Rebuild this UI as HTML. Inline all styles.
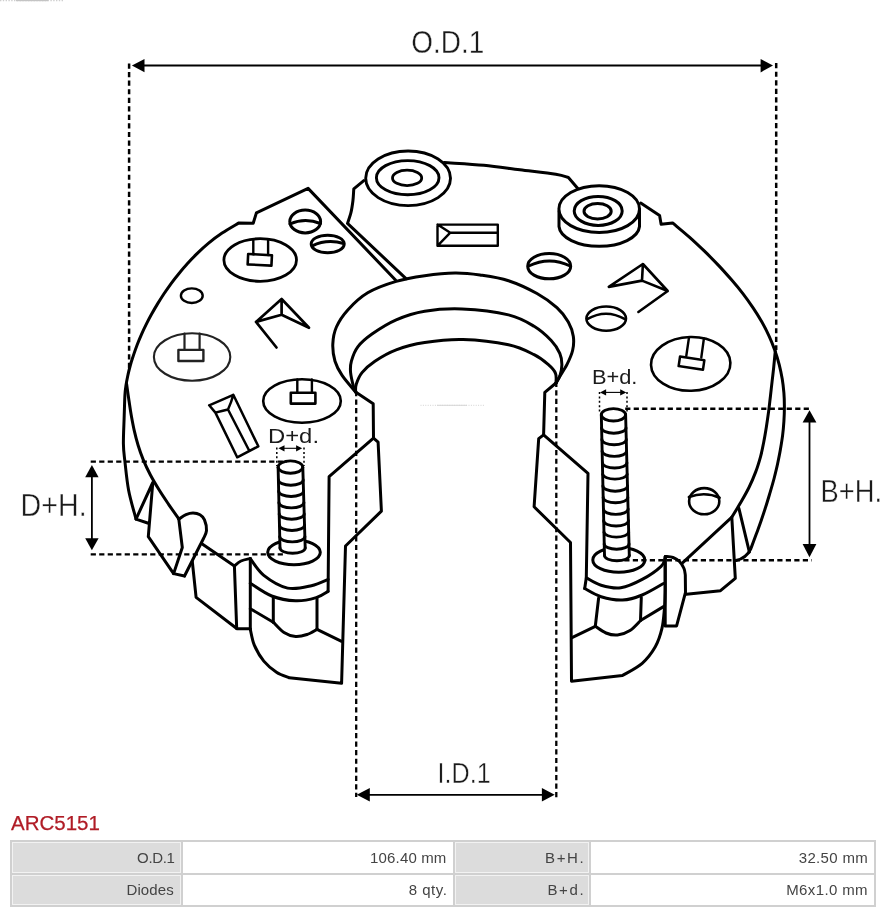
<!DOCTYPE html>
<html><head><meta charset="utf-8"><style>
html,body{margin:0;padding:0;background:#fff;width:890px;height:913px;overflow:hidden}
body{position:relative;font-family:"Liberation Sans",sans-serif}
svg{position:absolute;left:0;top:0;will-change:transform}
.title,table{will-change:transform}
.title{position:absolute;left:11px;top:811px;font-size:20.5px;color:#b01c26;-webkit-text-stroke:0.25px #b01c26;line-height:24px;white-space:nowrap}
table{position:absolute;left:10px;top:840px;border-collapse:separate;border-spacing:2px;background:#d0d0d0;width:866px;height:67px;padding:0}
td{box-sizing:border-box;font-size:15px;letter-spacing:0.15px;color:#444;text-align:right;padding:0 5px 0 0;border:1px solid #f2f2f2;line-height:16px;white-space:nowrap}
td.l{background:#dcdcdc}
td.v{background:#fff;border-color:#fff}
</style></head><body>
<svg width="890" height="913" viewBox="0 0 890 913">
<g fill="none" stroke="#000" stroke-linejoin="round" stroke-linecap="round">
<path d="M136,519.1 C134.8,514.3 130.4,499.8 128.6,490.2 C126.8,480.6 125.8,469.1 124.9,461.4 C124,453.6 123.5,451.3 123.4,443.7 C123.3,436.1 124,423.8 124.2,415.8 C124.5,407.8 124.6,400.6 124.9,395.5 C125.2,390.4 125.5,388.7 126,385.3 C126.5,381.9 127.2,378.6 127.9,375.2 C128.6,371.8 129.5,368.4 130.4,365 C131.3,361.6 132.5,358.3 133.6,354.9 C134.7,351.5 135.9,348.1 137.2,344.7 C138.5,341.3 139.9,338 141.4,334.6 C142.9,331.2 144.5,327.8 146.2,324.4 C147.9,321 149.6,317.7 151.5,314.3 C153.4,310.9 155.3,307.5 157.4,304.1 C159.5,300.7 161.6,297.4 163.8,294 C166.1,290.6 168.4,287.2 170.9,283.8 C173.4,280.4 176,277.1 178.8,273.7 C181.6,270.3 184.4,266.9 187.5,263.5 C190.6,260.1 193.8,256.8 197.3,253.4 C200.8,250 204.5,246.6 208.6,243.2 C212.7,239.8 217,236.5 222.1,233.1 C227.2,229.7 236.2,224.6 239,222.9 L253.2,223.3 L256.4,212.9 L308.1,188.4 L395.5,280" stroke-width="3"/>
<path d="M126.6,384 C127,386.8 128.2,395.5 129,400.8 C129.8,406.1 130.4,410.7 131.3,415.6 C132.2,420.5 133.1,425.5 134.2,430.4 C135.3,435.3 136.6,440.3 138.1,445.2 C139.6,450.1 141.3,455 143.3,459.9 C145.3,464.8 147.7,469.8 150.3,474.7 C152.9,479.6 155.9,484.6 158.9,489.5 C161.9,494.4 165.3,499.4 168.6,504.3 C171.9,509.2 177.2,516.6 178.9,519.1" stroke-width="3"/>
<path d="M149.1,523.5 L136,519.1 L152.8,482.5 L148.3,536.7 L173.6,573.6 L184.5,576" stroke-width="3"/>
<path d="M178.8,519.1 C180,518.4 183.6,515.6 186,514.6 C188.4,513.6 190.7,513 193,513 C195.3,513 198.1,513.6 200,514.8 C201.9,515.9 203.4,517.2 204.5,519.9 C205.6,522.5 206.7,527.6 206.5,530.7 C206.3,533.8 204,537.2 203.5,538.5 L184.5,576" stroke-width="3"/>
<path d="M178.8,519.1 L182.3,547.5 L173.6,573.6" stroke-width="3"/>
<path d="M201.5,543.5 L234.4,566" stroke-width="3"/>
<path d="M192.3,561.5 L196.1,597.4 L236.7,628.5" stroke-width="3"/>
<path d="M234.4,566 C235.5,565.2 238.3,562.2 241,561 C243.7,559.8 248.8,558.9 250.3,558.5" stroke-width="3"/>
<path d="M234.4,566 L236.7,628.8 L250.3,628.8" stroke-width="3"/>
<path d="M250.3,558.5 L250.3,629.4" stroke-width="3"/>
<path d="M250.3,558.7 C252.6,561.5 257.6,570.5 263.8,575.4 C270,580.3 279.7,586.4 287.6,588.1 C295.5,589.8 304.6,587.2 311.4,585.7 C318.1,584.2 325.3,580.5 328.1,579.4" stroke-width="3"/>
<path d="M250.3,583.3 C253.9,585.4 264.1,593.1 271.7,596 C279.2,598.9 288.2,600.5 295.6,600.8 C303,601.1 310.8,599.2 316.2,597.6 C321.6,596 326.1,592.3 328.1,591.3" stroke-width="3"/>
<path d="M373.5,438.2 L329.1,476.7 L328.1,591.3" stroke-width="3"/>
<path d="M250.3,608.7 L273.3,622.2" stroke-width="3"/>
<path d="M273.3,597.6 L273.3,622.2" stroke-width="3"/>
<path d="M317,598.4 L317,629.4" stroke-width="3"/>
<path d="M273.3,622.2 C275.1,623.9 280.3,630.1 284,632.5 C287.7,634.9 291.8,636.2 295.6,636.5 C299.4,636.8 303.4,635.7 307,634.5 C310.6,633.3 315.3,630.2 317,629.4" stroke-width="3"/>
<path d="M317,629.4 L341.6,641.3" stroke-width="3"/>
<path d="M250.3,629.4 C251,632 252.1,639.9 254.3,645.2 C256.6,650.5 260.1,656.6 263.8,661.1 C267.5,665.6 272.3,669.4 276.5,672.2 C280.7,675 287.1,676.9 289.2,677.8 L341.6,683.3 L345.5,546 L381.4,511.2 L378.1,442.2 L373.5,438.2 L373.2,403.7 L355.6,392" stroke-width="3"/>
<path d="M355.6,392 C353.4,389.2 345.5,380.5 342.1,375.4 C338.7,370.3 336.6,366.4 335,361.2 C333.4,356 332.6,349.8 332.8,344.1 C333,338.4 333.9,332.7 336.4,327 C338.9,321.3 342.6,315.6 347.8,309.9 C353,304.2 359.6,297.6 367.7,292.8 C375.8,288.1 386.7,284.2 396.2,281.4 C405.7,278.5 414.9,277.1 424.7,275.7 C434.5,274.3 445.8,273.1 455,273 C464.2,272.9 471.1,273.7 480,275 C488.9,276.3 499,277.6 508.5,280.7 C518,283.8 528.9,289 537,293.5 C545.1,298 551.7,302.9 556.9,307.7 C562.1,312.4 565.6,317.2 568.3,322 C571,326.8 572.6,331.4 573.3,336.2 C574,340.9 573.7,345.8 572.6,350.5 C571.5,355.2 569.1,360.2 566.9,364.7 C564.6,369.2 560.9,374.4 559.1,377.5 C557.3,380.6 556.5,382.1 556,383" stroke-width="3"/>
<path d="M355.6,392 C355.2,391.1 354.3,390 353.5,386.8 C352.7,383.6 351,376.9 350.6,372.6 C350.2,368.3 350.2,365.5 351.4,361.2 C352.6,356.9 354.4,351.4 357.8,346.9 C361.2,342.4 365.6,338.6 372,334.1 C378.4,329.6 387.4,323.7 396.2,319.9 C405,316.1 413.7,313.1 424.7,311.3 C435.7,309.5 448,308.4 462,309 C476,309.6 496.5,312 508.5,314.9 C520.5,317.8 527,322 534.1,326.3 C541.2,330.6 546.9,336 551.2,340.5 C555.5,345 558,349.3 559.8,353.3 C561.6,357.3 561.9,360.9 561.9,364.7 C561.9,368.5 560.8,373.1 559.8,376.1 C558.8,379.2 556.6,381.9 556,383" stroke-width="3"/>
<path d="M355.6,392 C355.7,390.7 355.2,387.2 356.3,384 C357.4,380.8 358.9,376.4 362,372.6 C365.1,368.8 369.2,365 374.9,361.2 C380.6,357.4 387.9,352.9 396.2,349.8 C404.5,346.7 413.6,344.3 424.7,342.6 C435.8,340.9 449,339.2 463,339.6 C477,340 496.6,342.3 508.5,344.8 C520.4,347.3 527.5,351.4 534.1,354.7 C540.8,358 544.8,361.6 548.4,364.7 C552,367.8 554.2,370.2 555.5,373.3 C556.8,376.4 555.9,381.4 556,383" stroke-width="3"/>
<path d="M556,383 L544.8,392.4 L543.6,434.8 L538.7,438.7 L534.1,506.8 L570.5,542.5 L571.5,681.3 L622.4,675.6 C625.7,673.5 636.7,668.1 642.2,663.3 C647.7,658.5 652,652.6 655.3,646.8 C658.6,641 660.4,635 661.9,628.7 C663.4,622.4 663.8,615.5 664.4,609 C665,602.5 665.1,593.2 665.2,590 L665.2,556.4" stroke-width="3"/>
<path d="M543.6,434.8 L588,473.3 L586.3,577.8 L584.7,588.5" stroke-width="3"/>
<path d="M586.3,577.8 C588.8,579 595.4,583.6 601.1,585.2 C606.9,586.9 613.9,588.7 620.8,587.7 C627.6,586.7 635.5,583 642.2,579.4 C648.9,575.8 657.3,569.9 661.1,566.3 C664.9,562.7 664.5,559.4 665.2,558" stroke-width="3"/>
<path d="M584.7,588.5 C587.4,589.9 594.8,594.8 601.1,596.7 C607.4,598.6 615.5,600.3 622.4,600 C629.2,599.7 635.4,597.8 642.2,595 C649.1,592.2 660,585.4 663.5,583.5" stroke-width="3"/>
<path d="M571.5,637.8 L595.3,626.3" stroke-width="3"/>
<path d="M598.6,598.3 L595.3,626.3" stroke-width="3"/>
<path d="M641.3,597.5 L640.5,620.5" stroke-width="3"/>
<path d="M595.3,626.3 C597.1,627.4 602.3,631.5 606,633 C609.7,634.5 613.5,635.4 617.5,635 C621.5,634.6 626.2,632.9 630,630.5 C633.8,628.1 638.8,622.2 640.5,620.5" stroke-width="3"/>
<path d="M640.5,620.5 L663.5,606.6" stroke-width="3"/>
<path d="M665.2,556.4 C666.5,556.6 670.6,556.6 673,557.5 C675.4,558.4 677.7,559.7 679.5,561.5 C681.3,563.3 683,566.2 684,568.5 C685,570.8 685.1,573.9 685.3,575 L685.5,592.3 L676.6,625.9 L665.2,625.9 L665.2,556.4" stroke-width="3"/>
<path d="M686.3,594.2 L720.5,590.7 L735.3,578.4 L731.8,517.1" stroke-width="3"/>
<path d="M738.9,508.3 L749.4,552.1" stroke-width="3"/>
<path d="M640.7,203 L659.6,215.6 L661.1,224.3 L672.6,222.9 C675.4,225.3 684.1,232.4 689.4,237.1 C694.7,241.8 699.6,246.5 704.5,251.2 C709.4,255.9 714,260.7 718.5,265.4 C723,270.1 727.2,274.9 731.3,279.6 C735.4,284.3 739.3,289 742.9,293.7 C746.5,298.4 749.9,303.2 753.1,307.9 C756.3,312.6 759.2,317.4 761.9,322.1 C764.6,326.8 767,331.6 769.2,336.3 C771.4,341 773.2,345.7 774.9,350.4 C776.6,355.1 778,359.9 779.2,364.6 C780.4,369.3 781.4,374.1 782.2,378.8 C783,383.5 783.5,388.2 783.9,392.9 C784.3,397.6 784.4,402.4 784.4,407.1 C784.4,411.8 784.2,416.6 783.9,421.3 C783.6,426 783.2,430.7 782.6,435.4 C782,440.1 781.2,444.9 780.4,449.6 C779.6,454.3 778.6,459.1 777.6,463.8 C776.6,468.5 775.4,473.3 774.2,478 C773,482.7 771.6,487.4 770.2,492.1 C768.8,496.8 767.4,501.6 765.9,506.3 C764.4,511 762.8,515.8 761.2,520.5 C759.6,525.2 757.8,529.9 756.1,534.6 C754.4,539.3 751.7,546.4 750.8,548.8 Q746.5,558 736,560.5" stroke-width="3"/>
<path d="M775.3,351.3 C775,353.8 774.3,361.4 773.8,366.4 C773.3,371.4 772.7,376.4 772.1,381.4 C771.5,386.4 771,391.5 770.4,396.5 C769.8,401.5 769.3,406.6 768.6,411.6 C767.9,416.6 767.2,421.7 766.4,426.7 C765.6,431.7 764.8,436.7 763.8,441.7 C762.8,446.7 761.9,451.8 760.5,456.8 C759.1,461.8 757.6,466.9 755.7,471.9 C753.8,476.9 751.7,482 749.2,487 C746.8,492 743.9,497 741,502 C738.1,507 733.4,514.6 731.9,517.1 L682.8,562.7" stroke-width="3"/>
<path d="M444.4,162.6 C451,163.1 471.3,164.1 483.9,165.3 C496.5,166.5 507.9,168.3 519.9,169.8 C531.9,171.3 547.7,173 555.8,174.3 C563.9,175.6 566.3,177 568.4,177.5 L577.6,188.2" stroke-width="3"/>
<path d="M363.8,180.7 L353.8,188.8 C353.6,190.8 353.4,197.1 352.9,201 C352.4,204.9 351.9,208.7 351,212.4 C350.1,216.1 348.1,221.6 347.5,223.4 L406,278.6" stroke-width="3"/>
<ellipse cx="408.1" cy="178.3" rx="42.4" ry="27.3" stroke-width="2.9" fill="#fff"/>
<ellipse cx="407.7" cy="177.7" rx="31.3" ry="17.1" stroke-width="2.9"/>
<ellipse cx="407.1" cy="177.9" rx="14.6" ry="7.7" stroke-width="2.8"/>
<path d="M559,211 L559,226.5 A40.3 20.8 0 0 0 639.5,226.5 L639.5,209" stroke-width="3" fill="#fff"/>
<ellipse cx="599.2" cy="209.1" rx="40.3" ry="23.4" stroke-width="3" fill="#fff"/>
<ellipse cx="598.2" cy="210.9" rx="24" ry="14.5" stroke-width="3"/>
<ellipse cx="597.6" cy="211.3" rx="13.6" ry="7.8" stroke-width="3"/>
<ellipse cx="305.2" cy="221.5" rx="15.4" ry="11.4" stroke-width="3"/>
<path d="M290,224 Q304.8,217.2 320.5,223.5" stroke-width="3"/>
<ellipse cx="327.7" cy="244" rx="16.5" ry="8.8" stroke-width="3"/>
<path d="M312.3,245.8 Q327.2,238.5 343.7,243.5" stroke-width="3"/>
<ellipse cx="549.2" cy="266.2" rx="21.5" ry="12.6" stroke-width="3"/>
<path d="M528.7,266 Q549.3,255.8 570.2,266" stroke-width="3"/>
<ellipse cx="606.2" cy="318.6" rx="19.8" ry="12.1" stroke-width="2.6"/>
<path d="M587.2,319.2 Q605.9,308.4 625,319.2" stroke-width="2.6"/>
<ellipse cx="704.2" cy="501.2" rx="15.1" ry="13.1" stroke-width="2.6"/>
<path d="M688.9,497 Q705.2,491.2 719.6,497.8" stroke-width="2.6"/>
<ellipse cx="191.8" cy="295.7" rx="10.9" ry="7.3" stroke-width="2.4"/>
<path d="M276.5,347.5 L256,321.9 L281.6,299 L309,327.8 L281.6,314.7 L256,321.9 M281.6,299 L281.6,314.7" stroke-width="2.7"/>
<path d="M638.4,312 L667.7,291 L642.9,264 L608.8,286.9 L642,280.6 L667.7,291 M642.9,264 L642,280.6" stroke-width="2.6"/>
<path d="M437.5,224.6 H497.8 V245.8 H437.5 Z M437.5,224.6 L450.3,232.7 L437.5,245.8 M450.3,232.7 H497.8" stroke-width="2.4"/>
<ellipse cx="260.2" cy="260" rx="36.3" ry="21.3" stroke-width="2.8"/>
<path d="M253.3,239.2 V254.3 M268.1,239.4 V255" stroke-width="2.4"/>
<rect x="-11.9" y="-5.2" width="23.8" height="10.4" stroke-width="2.6" transform="translate(259.8 259.8) rotate(2.9)"/>
<ellipse cx="192.1" cy="357" rx="38.2" ry="23.7" stroke-width="2.1" stroke="#222"/>
<path d="M184.5,333.5 V349.9 M199.6,333.5 V349.9" stroke-width="2.2" stroke="#222"/>
<rect x="178.4" y="349.9" width="25" height="11.1" stroke-width="2.4" stroke="#222"/>
<ellipse cx="302" cy="401" rx="38.8" ry="21.7" stroke-width="2.6"/>
<path d="M297.3,379.5 V392.8 M311.9,379.5 V392.8" stroke-width="2.4"/>
<rect x="290.8" y="392.8" width="24.6" height="10.8" stroke-width="2.6"/>
<ellipse cx="690.7" cy="363.9" rx="39.7" ry="26.9" stroke-width="2.6" transform="rotate(-1.5 690.7 363.9)"/>
<path d="M689,337.5 L686.3,355.8 M703.9,338.5 L701.3,357.5" stroke-width="2.4"/>
<rect x="-12.3" y="-4.85" width="24.6" height="9.7" stroke-width="2.5" transform="translate(691.5 363.1) rotate(8.5)"/>
<path d="M209.2,405.3 L233.3,394.8 L258.3,446.3 L237.2,457.3 L215.4,412.6 Z M215.4,412.6 Q222,410.8 228,409.5 Q231.5,402 233.3,394.8 M228,409.5 L249,450.3" stroke-width="2.5"/>
<ellipse cx="294" cy="552.3" rx="26.3" ry="12.4" stroke-width="3" fill="#fff"/>
<path d="M278.1,467.2 L280,548 Q292.6,558.6 305.2,548 L302.8,467.2 Z" fill="#fff" stroke="none"/>
<path d="M278.1,467.2 L280,548 M302.8,467.2 L305.2,548" stroke-width="2.9"/>
<path d="M278.1,467.2 A12.3 6.2 0 0 1 302.8,467.2" stroke-width="2.8"/>
<path d="M278.1,467.6 A12.4 6.2 0 0 0 302.8,467.6" stroke-width="2.9"/>
<path d="M278.4,479.9 A12.4 5.3 0 0 0 303.2,479.9" stroke-width="2.9"/>
<path d="M278.7,491.2 A12.4 5.3 0 0 0 303.5,491.2" stroke-width="2.9"/>
<path d="M278.9,502.6 A12.5 5.3 0 0 0 303.9,502.6" stroke-width="2.9"/>
<path d="M279.2,513.9 A12.5 5.3 0 0 0 304.2,513.9" stroke-width="2.9"/>
<path d="M279.5,525.2 A12.5 5.3 0 0 0 304.5,525.2" stroke-width="2.9"/>
<path d="M279.7,536.6 A12.6 5.3 0 0 0 304.9,536.6" stroke-width="2.9"/>
<path d="M280,548 A12.6 5.3 0 0 0 305.2,548" stroke-width="2.9"/>
<ellipse cx="618.8" cy="559.9" rx="26" ry="12.4" stroke-width="3" fill="#fff"/>
<path d="M601.3,414.3 L604.5,555.5 Q616.9,566.1 629.3,555.5 L625.6,414.3 Z" fill="#fff" stroke="none"/>
<path d="M601.3,414.3 L604.5,555.5 M625.6,414.3 L629.3,555.5" stroke-width="2.9"/>
<path d="M601.3,414.3 A12.2 6.3 0 0 1 625.6,414.3" stroke-width="2.8"/>
<path d="M601.3,415.3 A12.2 6.3 0 0 0 625.6,415.3" stroke-width="2.9"/>
<path d="M601.6,427.9 A12.2 5.3 0 0 0 626,427.9" stroke-width="2.9"/>
<path d="M601.9,439.5 A12.2 5.3 0 0 0 626.3,439.5" stroke-width="2.9"/>
<path d="M602.1,451.1 A12.2 5.3 0 0 0 626.6,451.1" stroke-width="2.9"/>
<path d="M602.4,462.7 A12.2 5.3 0 0 0 626.9,462.7" stroke-width="2.9"/>
<path d="M602.7,474.3 A12.3 5.3 0 0 0 627.2,474.3" stroke-width="2.9"/>
<path d="M602.9,485.9 A12.3 5.3 0 0 0 627.5,485.9" stroke-width="2.9"/>
<path d="M603.2,497.5 A12.3 5.3 0 0 0 627.8,497.5" stroke-width="2.9"/>
<path d="M603.4,509.1 A12.3 5.3 0 0 0 628.1,509.1" stroke-width="2.9"/>
<path d="M603.7,520.7 A12.3 5.3 0 0 0 628.4,520.7" stroke-width="2.9"/>
<path d="M604,532.3 A12.4 5.3 0 0 0 628.7,532.3" stroke-width="2.9"/>
<path d="M604.2,543.9 A12.4 5.3 0 0 0 629,543.9" stroke-width="2.9"/>
<path d="M604.5,555.5 A12.4 5.3 0 0 0 629.3,555.5" stroke-width="2.9"/>
</g>
<g stroke="#000" fill="none">
<line x1="140" y1="65.5" x2="765" y2="65.5" stroke-width="1.8"/>
<polygon points="131.9,65.5 144.5,59 144.5,72.2" fill="#000" stroke="none"/>
<polygon points="773,65.5 760.6,59.1 760.6,72.4" fill="#000" stroke="none"/>
<line x1="129.1" y1="63.5" x2="129.1" y2="368" stroke-width="2.5" stroke-dasharray="5.2 3.35"/>
<line x1="776.2" y1="63.1" x2="776.2" y2="350" stroke-width="2.5" stroke-dasharray="5.2 3.35"/>
<line x1="356.2" y1="391" x2="356.2" y2="797" stroke-width="2.3" stroke-dasharray="5.2 3.35"/>
<line x1="556.3" y1="381.7" x2="556.3" y2="797.5" stroke-width="2.3" stroke-dasharray="5.2 3.35"/>
<line x1="365" y1="794.8" x2="548" y2="794.8" stroke-width="1.8"/>
<polygon points="356.8,794.8 369.8,788 369.8,801.6" fill="#000" stroke="none"/>
<polygon points="554.7,794.8 541.9,788 541.9,801.6" fill="#000" stroke="none"/>
<line x1="90.7" y1="461.6" x2="287" y2="461.6" stroke-width="2.4" stroke-dasharray="5.2 3.3"/>
<line x1="90.7" y1="554.4" x2="285.5" y2="554.4" stroke-width="2.4" stroke-dasharray="5.2 3.3"/>
<line x1="91.9" y1="470" x2="91.9" y2="545" stroke-width="1.8"/>
<polygon points="91.9,464.9 85.2,477.3 98.6,477.3" fill="#000" stroke="none"/>
<polygon points="91.9,550.3 85.2,538.2 98.6,538.2" fill="#000" stroke="none"/>
<line x1="625.2" y1="408.8" x2="811.8" y2="408.8" stroke-width="2.4" stroke-dasharray="5.2 3.3"/>
<line x1="624.3" y1="560.3" x2="811.8" y2="560.3" stroke-width="2.4" stroke-dasharray="5.2 3.3"/>
<line x1="809.5" y1="415" x2="809.5" y2="552" stroke-width="1.8"/>
<polygon points="809.5,410.3 802.6,422.4 816.4,422.4" fill="#000" stroke="none"/>
<polygon points="809.5,557.2 802.6,544 816.4,544" fill="#000" stroke="none"/>
<line x1="276.8" y1="447.5" x2="276.8" y2="466" stroke-width="1.5" stroke-dasharray="2 2.4"/>
<line x1="304" y1="447.5" x2="304" y2="466" stroke-width="1.5" stroke-dasharray="2 2.4"/>
<line x1="281" y1="448.3" x2="300" y2="448.3" stroke-width="1.1"/>
<polygon points="278.4,448.3 284.5,445.2 284.5,451.4" fill="#000" stroke="none"/>
<polygon points="302.2,448.3 296.1,445.2 296.1,451.4" fill="#000" stroke="none"/>
<line x1="599.5" y1="392" x2="599.5" y2="413" stroke-width="1.5" stroke-dasharray="2 2.4"/>
<line x1="627" y1="392" x2="627" y2="413" stroke-width="1.5" stroke-dasharray="2 2.4"/>
<line x1="603" y1="392.4" x2="623.5" y2="392.4" stroke-width="1.1"/>
<polygon points="600,392.4 606.1,389.3 606.1,395.5" fill="#000" stroke="none"/>
<polygon points="626.3,392.4 620.2,389.3 620.2,395.5" fill="#000" stroke="none"/>
</g>
<g fill="#1a1a1a" stroke="#fff" stroke-width="0.6" font-family="Liberation Sans, sans-serif">
<text x="411.3" y="53.1" font-size="32" textLength="73" lengthAdjust="spacingAndGlyphs" stroke-width="0.4">O.D.1</text>
<text x="437.6" y="782.6" font-size="30" textLength="53" lengthAdjust="spacingAndGlyphs" stroke-width="0.4">I.D.1</text>
<text x="20.6" y="516.2" font-size="31" textLength="66" lengthAdjust="spacingAndGlyphs" stroke-width="0.4">D+H.</text>
<text x="820.6" y="501.5" font-size="31" textLength="61.5" lengthAdjust="spacingAndGlyphs" stroke-width="0.4">B+H.</text>
<text x="268" y="443" font-size="20.5" textLength="51" lengthAdjust="spacingAndGlyphs" stroke-width="0">D+d.</text>
<text x="591.9" y="384.3" font-size="20.5" textLength="45.5" lengthAdjust="spacingAndGlyphs" stroke-width="0">B+d.</text>
</g>
<line x1="420.5" y1="405.3" x2="485" y2="405.3" stroke="#d2d2d2" stroke-width="1" stroke-dasharray="1 1.4"/><line x1="437" y1="405.3" x2="467" y2="405.3" stroke="#d6d6d6" stroke-width="1"/>
<line x1="0" y1="0.6" x2="64" y2="0.6" stroke="#cfcfcf" stroke-width="1.2" stroke-dasharray="1.4 1.4"/><line x1="16" y1="0.6" x2="48" y2="0.6" stroke="#c4c4c4" stroke-width="1.2"/>
</svg>
<div class="title">ARC5151</div>
<table>
<tr style="height:31px"><td class="l" style="width:169px;letter-spacing:-0.37px;padding-right:5.6px">O.D.1</td><td class="v" style="width:269.5px">106.40 mm</td><td class="l" style="width:134px;letter-spacing:1.58px;padding-right:2.3px">B+H.</td><td class="v" style="letter-spacing:0.31px">32.50 mm</td></tr>
<tr style="height:30px"><td class="l" style="padding-right:6px">Diodes</td><td class="v" style="letter-spacing:0.49px;padding-right:4.2px">8 qty.</td><td class="l" style="letter-spacing:1.65px;padding-right:2.2px">B+d.</td><td class="v" style="letter-spacing:0.39px">M6x1.0 mm</td></tr>
</table>
</body></html>
